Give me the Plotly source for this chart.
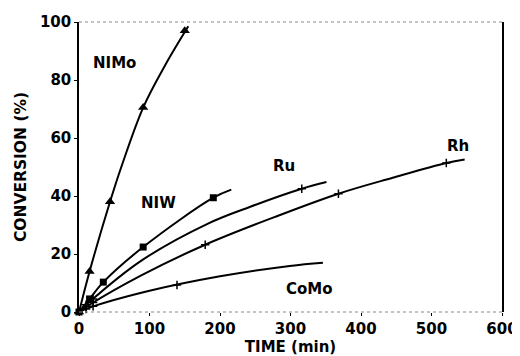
import plotly.graph_objects as go

# Fitted curves
nimo_t = [0, 15, 44, 60, 91, 122, 155]
nimo_c = [0, 14, 38, 50, 70.5, 85, 98.5]
niw_t = [0, 15, 34.5, 91, 190.5, 216]
niw_c = [0, 4.5, 10.3, 22.4, 39.4, 42.2]
ru_t = [0, 15, 89, 183, 243, 316, 351]
ru_c = [0, 3.5, 17.8, 30.5, 36.3, 42.5, 44.8]
rh_t = [0, 15, 89, 179, 278, 368, 445, 521, 547]
rh_c = [0, 2.5, 12.7, 23.2, 32.8, 40.8, 46.3, 51.4, 52.6]
como_t = [0, 15, 100, 200, 299, 346]
como_c = [0, 1.5, 7.3, 12.3, 15.9, 17.0]

# Experimental points
nimo_pt_t = [0, 15, 44, 91, 150]
nimo_pt_c = [0, 14, 38, 70.5, 97]
niw_pt_t = [0, 15, 34.5, 91, 190.5]
niw_pt_c = [0, 4.5, 10.3, 22.4, 39.4]
ru_pt_t = [10, 20, 316]
ru_pt_c = [2.5, 4.5, 42.5]
rh_pt_t = [10, 20, 179, 368, 521]
rh_pt_c = [1.8, 3.3, 23.2, 40.8, 51.4]
como_pt_t = [10, 20, 139]
como_pt_c = [1.0, 2.0, 9.3]

labels = ["NIMo", "NIW", "Ru", "Rh", "CoMo"]
label_t = [50, 113, 291, 538, 327]
label_c = [86, 37.6, 50.2, 57.1, 7.8]

x_ticks = [0, 100, 200, 300, 400, 500, 600]
y_ticks = [0, 20, 40, 60, 80, 100]

FONT = "DejaVu Sans, Arial, sans-serif"
fig = go.Figure()

for t, c in [(nimo_t, nimo_c), (niw_t, niw_c), (ru_t, ru_c), (rh_t, rh_c), (como_t, como_c)]:
    fig.add_trace(go.Scatter(x=t, y=c, mode="lines",
                             line=dict(color="black", width=2, shape="spline", smoothing=1.0),
                             hoverinfo="skip", cliponaxis=False))

fig.add_trace(go.Scatter(x=nimo_pt_t, y=nimo_pt_c, mode="markers",
                         marker=dict(symbol="triangle-up", size=9, color="black"), cliponaxis=False))
fig.add_trace(go.Scatter(x=niw_pt_t, y=niw_pt_c, mode="markers",
                         marker=dict(symbol="square", size=7, color="black"), cliponaxis=False))
for t, c in [(ru_pt_t, ru_pt_c), (rh_pt_t, rh_pt_c), (como_pt_t, como_pt_c)]:
    fig.add_trace(go.Scatter(x=t, y=c, mode="markers",
                             marker=dict(symbol="cross-thin", size=6, color="black",
                                         line=dict(width=1.5, color="black")),
                             cliponaxis=False))

for lab, t, c in zip(labels, label_t, label_c):
    fig.add_annotation(x=t, y=c, text=lab, showarrow=False,
                       font=dict(family=FONT, size=15, color="black", weight="bold"))

# dotted top and bottom frame
fig.add_shape(type="line", xref="paper", yref="paper", x0=0, x1=1, y0=1, y1=1,
              line=dict(color="#888", width=1, dash="dot"))
fig.add_shape(type="line", xref="paper", yref="paper", x0=0, x1=1, y0=0, y1=0,
              line=dict(color="#888", width=1, dash="dot"))

# page body has an 8px margin, so the figure is sized to fit the 520x356 window
fig.update_layout(
    width=512, height=348,
    margin=dict(l=71, r=18, t=14, b=44),
    paper_bgcolor="white", plot_bgcolor="white",
    showlegend=False,
    font=dict(family=FONT, color="black", size=15),
    xaxis=dict(range=[0, 600], tickvals=x_ticks, showgrid=False, zeroline=False,
               showline=False, ticks="outside", ticklen=3, tickcolor="black",
               automargin=False,
               tickfont=dict(family=FONT, size=15, weight="bold"),
               title=dict(text="TIME (min)", font=dict(family=FONT, size=15, weight="bold"), standoff=4)),
    yaxis=dict(range=[0, 100], tickvals=y_ticks, showgrid=False, zeroline=False,
               showline=True, linecolor="black", linewidth=1.5, mirror=True,
               ticks="outside", ticklen=3, tickcolor="black",
               automargin=False,
               tickfont=dict(family=FONT, size=15, weight="bold"),
               title=dict(text="CONVERSION (%)", font=dict(family=FONT, size=15.5, weight="bold"), standoff=10)),
)

fig.write_html("out.html")
